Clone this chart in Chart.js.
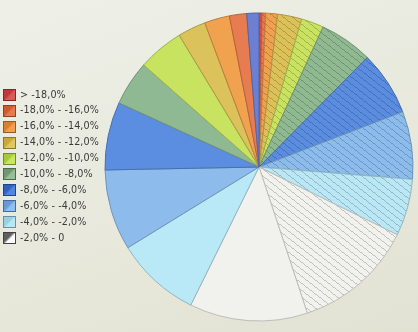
<!DOCTYPE html>
<html lang="en">
<head>
    <meta charset="UTF-8">
    <title>Distribution pie</title>
    <script src="https://cdn.jsdelivr.net/npm/chart.js"></script>
    <style>
        html, body {
            margin: 0;
            padding: 0;
            width: 418px;
            height: 332px;
            overflow: hidden;
        }
        body {
            background: linear-gradient(160deg, #eeefe7 0%, #e8e9dc 55%, #e1e2d2 100%);
            position: relative;
            font-family: "DejaVu Sans", sans-serif;
        }
        #pie {
            position: absolute;
            left: 0;
            top: 0;
        }
        #legend {
            position: absolute;
            left: 3px;
            top: 89px;
        }
        .item {
            position: relative;
            height: 15.9px;
            font-size: 9.6px;
            color: #3a3a3a;
            white-space: nowrap;
        }
        .box {
            position: absolute;
            left: 0;
            top: 0;
            width: 11px;
            height: 10px;
            border: 1px solid #444;
        }
        .label {
            position: absolute;
            left: 17px;
            top: -0.5px;
            line-height: 12px;
            letter-spacing: 0.1px;
        }
    </style>
</head>
<body>
    <canvas id="pie" width="418" height="332"></canvas>
    <div id="legend"></div>

    <script>
        // legend categories
        const categories = ['> -18,0%', '-18,0% - -16,0%', '-16,0% - -14,0%', '-14,0% - -12,0%', '-12,0% - -10,0%',
                            '-10,0% - -8,0%', '-8,0% - -6,0%', '-6,0% - -4,0%', '-4,0% - -2,0%', '-2,0% - 0'];

        // slice sizes, per category
        const hatchedValues = [1.1, 1.4, 4.5, 9.1, 8.5, 20.1, 24.3, 25.6, 21.5, 45.6];
        const plainValues = [4.6, 6.5, 9.5, 10.6, 17.3, 16.9, 25.7, 30.5, 32.1, 44.6];

        // colours
        const hatchedColors = ['#d9503e', '#e77b50', '#f0a14e', '#dcc158', '#c9e260', '#8fb991', '#5a8ce0', '#8cbcec', '#b9e7f5', '#f1f2ed'];
        const plainColors = ['#6b80d2', '#e77c51', '#f0a24f', '#dcc25a', '#c8e35f', '#8fb993', '#5b8ee0', '#8dbcec', '#b9e8f6', '#f1f2ee'];
        const legendDark = ['#c03838', '#d05a30', '#d88030', '#c8a838', '#a8c838', '#709870', '#3060c0', '#6898d8', '#98d0e0', '#606060'];
        const legendLight = ['#e05858', '#e87a50', '#f0a050', '#e0c860', '#c8e860', '#98c098', '#5088e0', '#90c0f0', '#b8e8f8', '#ffffff'];

        function shade(hex, f) {
            const n = parseInt(hex.slice(1), 16);
            const r = Math.round(((n >> 16) & 255) * f);
            const g = Math.round(((n >> 8) & 255) * f);
            const b = Math.round((n & 255) * f);
            return `rgb(${r},${g},${b})`;
        }

        // diagonal hatching, thin lines sloping down to the right
        function hatch(color) {
            const w = 9, h = 7;
            const c = document.createElement('canvas');
            c.width = w;
            c.height = h;
            const x = c.getContext('2d');
            x.fillStyle = color;
            x.fillRect(0, 0, w, h);
            x.fillStyle = shade(color, 0.8);
            for (let k = 0; k < w; k++) {
                x.fillRect(k, Math.floor(k * h / w), 1, 1);
            }
            return x.createPattern(c, 'repeat');
        }

        // build legend
        const legend = document.getElementById('legend');
        categories.forEach((cat, i) => {
            const item = document.createElement('div');
            item.className = 'item';
            const box = document.createElement('div');
            box.className = 'box';
            box.style.background = `linear-gradient(135deg, ${legendDark[i]} 0%, ${legendDark[i]} 42%, ${legendLight[i]} 58%, ${legendLight[i]} 100%)`;
            box.style.borderColor = shade(legendDark[i], 0.7);
            const label = document.createElement('span');
            label.className = 'label';
            label.textContent = cat;
            item.appendChild(box);
            item.appendChild(label);
            legend.appendChild(item);
        });

        // hatched slices clockwise from the top, then plain slices coming back
        const order = categories.map((c, i) => i);
        const reversed = order.slice().reverse();

        const labels = order.map(i => categories[i]).concat(reversed.map(i => categories[i]));
        const values = order.map(i => hatchedValues[i]).concat(reversed.map(i => plainValues[i]));
        const fills = order.map(i => hatch(hatchedColors[i])).concat(reversed.map(i => plainColors[i]));
        const borders = order.map(i => shade(hatchedColors[i], 0.78)).concat(reversed.map(i => shade(plainColors[i], 0.78)));

        const ctx = document.getElementById('pie').getContext('2d');
        new Chart(ctx, {
            type: 'pie',
            data: {
                labels: labels,
                datasets: [{
                    data: values,
                    backgroundColor: fills,
                    borderColor: borders,
                    borderWidth: 1
                }]
            },
            options: {
                responsive: false,
                animation: false,
                layout: {
                    padding: { left: 104.5, right: 4.5, top: 12.5, bottom: 10.5 }
                },
                plugins: {
                    legend: { display: false },
                    tooltip: { enabled: false }
                }
            }
        });
    </script>
</body>
</html>
